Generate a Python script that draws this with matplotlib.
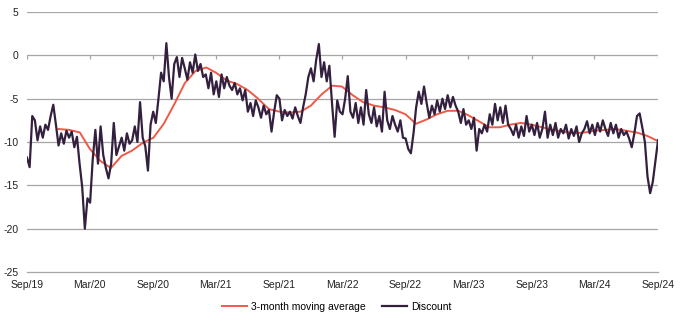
import matplotlib
matplotlib.use("Agg")
import matplotlib.pyplot as plt
import numpy as np
import pandas as pd

plt.rcParams["font.family"] = ["Liberation Sans", "DejaVu Sans"]
plt.rcParams["axes.unicode_minus"] = False

# discount, ~weekly readings (4 per month) Sep 2019 -> Sep 2024
discount = [
    -11.8, -12.9, -7.0, -7.5,    # Sep19
    -9.8, -8.2, -9.5, -8.0,      # Oct19
    -8.6, -7.0, -5.7, -8.0,      # Nov19
    -10.4, -9.0, -10.2, -8.7,    # Dec19
    -9.5, -8.8, -10.6, -9.4,     # Jan20
    -12.5, -15.2, -20.0, -16.5,  # Feb20
    -17.0, -12.0, -8.6, -12.5,   # Mar20
    -8.2, -11.5, -13.0, -14.2,   # Apr20
    -12.5, -7.8, -11.5, -10.5,   # May20
    -9.5, -11.0, -9.0, -10.2,    # Jun20
    -9.8, -8.2, -10.0, -5.4,     # Jul20
    -9.5, -10.5, -13.3, -8.0,    # Aug20
    -6.5, -7.8, -5.0, -2.0,      # Sep20
    -3.0, 1.4, -2.5, -5.0,       # Oct20
    -1.0, -0.2, -2.5, -0.3,      # Nov20
    -1.5, -2.8, -0.8, -2.0,      # Dec20
    0.1, -1.8, -1.0, -2.5,       # Jan21
    -2.2, -3.8, -2.0, -4.5,      # Feb21
    -3.0, -4.8, -2.2, -3.8,      # Mar21
    -2.5, -3.5, -4.0, -3.2,      # Apr21
    -4.5, -3.8, -5.2, -4.0,      # May21
    -6.5, -5.5, -7.0, -5.2,      # Jun21
    -6.0, -7.2, -5.8, -6.8,      # Jul21
    -6.3, -8.8, -6.5, -4.6,      # Aug21
    -5.0, -7.5, -6.3, -7.0,      # Sep21
    -6.5, -7.3, -6.0, -7.0,      # Oct21
    -7.8, -6.0, -4.5, -2.5,      # Nov21
    -1.5, -3.0, -0.5, 1.3,       # Dec21
    -2.5, -0.8, -3.0, -1.2,      # Jan22
    -5.5, -9.4, -5.2, -6.5,      # Feb22
    -6.8, -5.0, -2.4, -6.5,      # Mar22
    -7.2, -5.5, -7.8, -6.0,      # Apr22
    -8.0, -4.0, -6.8, -7.8,      # May22
    -6.0, -8.2, -7.0, -8.8,      # Jun22
    -4.2, -7.5, -8.5, -7.0,      # Jul22
    -8.0, -8.8, -7.5, -9.5,      # Aug22
    -9.6, -10.8, -11.3, -9.0,    # Sep22
    -6.0, -4.2, -5.6, -3.6,      # Oct22
    -5.5, -7.2, -5.8, -6.8,      # Nov22
    -5.2, -6.5, -5.0, -6.2,      # Dec22
    -4.6, -6.0, -4.8, -5.8,      # Jan23
    -6.5, -7.8, -6.2, -8.0,      # Feb23
    -7.5, -8.5, -7.2, -11.0,     # Mar23
    -8.5, -9.0, -8.0, -8.8,      # Apr23
    -6.8, -8.0, -5.6, -7.5,      # May23
    -6.0, -7.8, -5.8, -8.0,      # Jun23
    -8.5, -9.2, -8.0, -9.5,      # Jul23
    -8.2, -9.3, -7.0, -8.8,      # Aug23
    -8.0, -9.2, -7.8, -9.5,      # Sep23
    -8.5, -6.5, -9.5, -8.0,      # Oct23
    -9.2, -7.8, -9.5, -8.5,      # Nov23
    -9.0, -8.0, -9.6, -8.5,      # Dec23
    -9.3, -8.2, -10.0, -9.0,     # Jan24
    -8.5, -7.6, -9.0, -8.0,      # Feb24
    -9.2, -7.8, -8.8, -7.5,      # Mar24
    -8.5, -9.3, -7.8, -9.0,      # Apr24
    -8.0, -9.5, -8.5, -9.2,      # May24
    -8.8, -9.6, -10.6, -9.0,     # Jun24
    -7.0, -6.7, -8.3, -10.0,     # Jul24
    -14.0, -15.9, -14.6, -12.2,  # Aug24
    -9.8,                        # Sep24
]

# 3-month moving average, monthly readings Dec 2019 -> Sep 2024
moving_avg = [
    -8.5, -8.6, -8.9, -10.8, -12.2, -13.0, -11.6, -11.0, -10.1, -9.5,
    -7.9, -5.6, -3.2, -1.8, -1.4, -2.0, -2.9, -3.3, -4.0, -5.0,
    -6.2, -6.5, -6.6, -6.5, -5.8, -4.5, -3.5, -3.6, -4.6, -5.4,
    -5.8, -6.0, -6.3, -6.8, -7.9, -7.4, -6.8, -6.4, -6.4, -6.9,
    -7.6, -8.3, -8.3, -8.0, -7.8, -8.0, -8.3, -8.6, -8.8, -9.0,
    -8.9, -8.7, -8.6, -8.5, -8.7, -8.9, -9.3, -9.9,
]

tick_dates = pd.date_range("2019-09-01", "2024-09-01", freq="6MS")
tick_labels = [d.strftime("%b/%y") for d in tick_dates]

disc_dates = pd.date_range("2019-09-01", "2024-09-01", periods=len(discount))
ma_dates = pd.date_range("2019-12-01", "2024-09-01", freq="MS")

fig = plt.figure(figsize=(6.8, 3.21), dpi=100)
ax = fig.add_axes([0.0397, 0.1526, 0.928, 0.81])

ax.plot(ma_dates, moving_avg, color="#ef5a47", lw=1.4, label="3-month moving average", zorder=3)
ax.plot(disc_dates, discount, color="#33203f", lw=1.6, label="Discount", zorder=4)

ax.set_ylim(-25, 5)
ax.set_yticks(np.arange(-25, 6, 5))
ax.set_xlim(tick_dates[0], tick_dates[-1])
ax.set_xticks(tick_dates)
ax.set_xticklabels(tick_labels)

for y in range(-20, 6, 5):
    ax.axhline(y, color="#a6a6a6", lw=0.9, zorder=1)

# tick marks hang from the zero line
ax.vlines(tick_dates, -0.4, 0, color="#a6a6a6", lw=0.9, zorder=1)

for s in ["top", "right", "left"]:
    ax.spines[s].set_visible(False)
ax.spines["bottom"].set_color("#a6a6a6")
ax.spines["bottom"].set_linewidth(0.9)

ax.tick_params(axis="y", length=0, labelsize=7.5, pad=6, colors="#222222")
ax.tick_params(axis="x", length=0, labelsize=7.5, pad=6, colors="#222222")

fig.legend(loc="lower center", ncol=2, frameon=False, fontsize=7.5,
           handlelength=2.4, handletextpad=0.4, columnspacing=1.5,
           bbox_to_anchor=(0.495, 0.0))

fig.savefig("out.png", dpi=100)
